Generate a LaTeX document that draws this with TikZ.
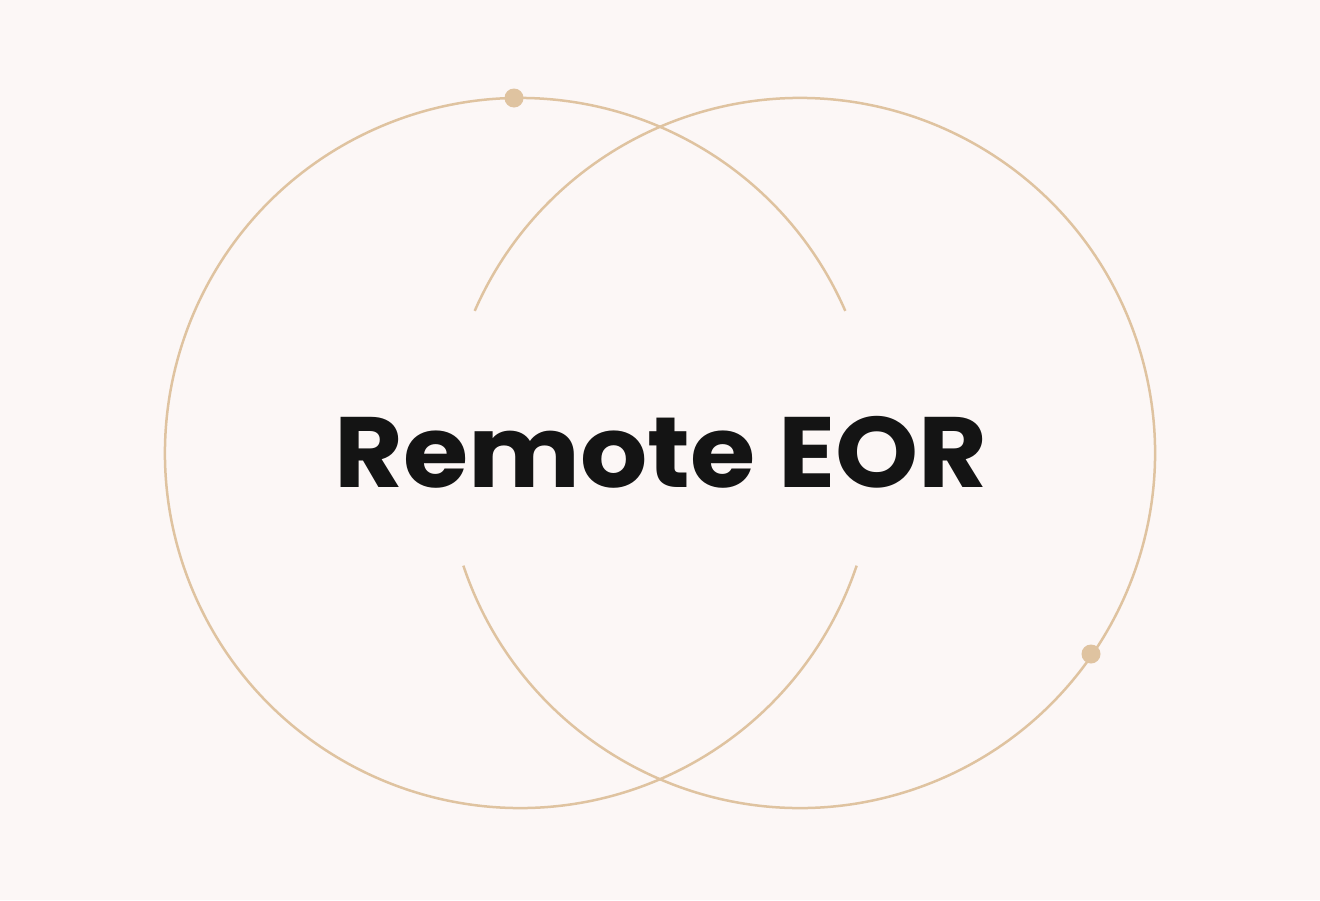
\documentclass[tikz,border=0pt]{standalone}
\usepackage{fontspec}
\setmainfont{Poppins}
\definecolor{bg}{HTML}{FCF7F6}
\definecolor{ring}{HTML}{DFC3A0}
\begin{document}
\begin{tikzpicture}[x=1pt,y=-1pt,ringline/.style={draw=ring,line width=2.5pt},dotmark/.style={circle,fill=ring,inner sep=0pt,minimum size=19pt}]
\fill[bg] (0,0) rectangle (1320,900);
\useasboundingbox (0,0) rectangle (1320,900);
\coordinate (cl) at (520,453);
\coordinate (cr) at (800,453);
\draw[ringline] (cl) ++(23.6:355 and -355) arc[start angle=23.6,end angle=341.5,x radius=355,y radius=-355];
\draw[ringline] (cr) ++(198.5:355 and -355) arc[start angle=198.5,end angle=516.4,x radius=355,y radius=-355];
\node[dotmark] (d1) at (514,98) {};
\node[dotmark] (d2) at (1091,654) {};
\node[font={\fontsize{100}{100}\selectfont\bfseries},text=black!92,xscale=1.057] (t) at (661,452) {Remote EOR};
\end{tikzpicture}
\end{document}
